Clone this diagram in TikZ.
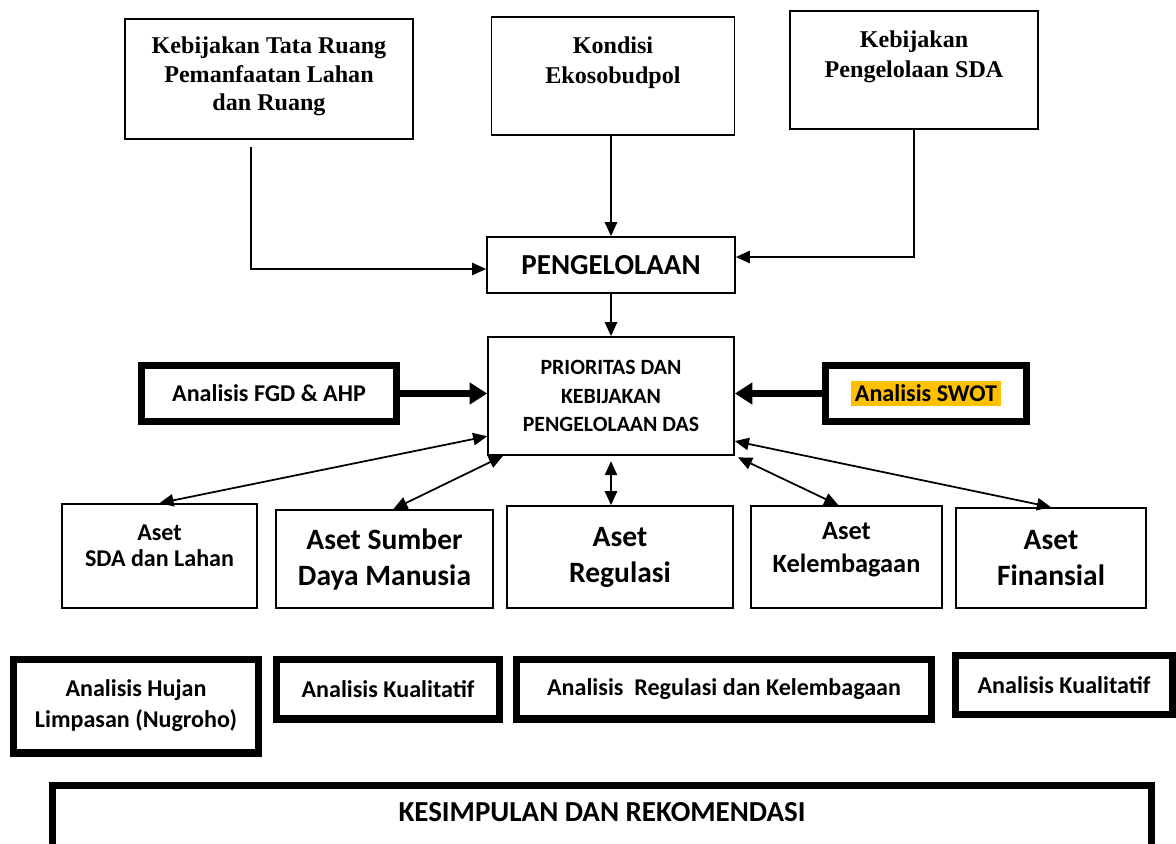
\documentclass[tikz,border=0pt]{standalone}
\usepackage{fontspec}
\setmainfont{Carlito}
\newfontfamily\serifbold{Liberation Serif}
\usetikzlibrary{arrows.meta}
\definecolor{swotorange}{HTML}{FFC000}

\begin{document}
\begin{tikzpicture}[x=0.02cm, y=-0.02cm,
  every node/.style={font=\bfseries},
  box/.style={draw, line width=1pt, align=center, inner sep=2pt},
  thickbox/.style={draw, line width=4pt, align=center, inner sep=2pt},
  serif/.style={font=\serifbold\fontsize{13.7}{#1}\selectfont\bfseries},
  fs/.style 2 args={font=\fontsize{#1}{#2}\selectfont\bfseries},
  arr/.style={line width=1pt, -{Triangle[length=8pt,width=7pt]}},
  dbl/.style={line width=1pt, {Triangle[length=8pt,width=7pt]}-{Triangle[length=8pt,width=7pt]}},
  fatarr/.style={line width=3.5pt, -{Triangle[length=10pt,width=12pt]}}]
  \useasboundingbox (0,0) rectangle (1176,843);
  \clip (0,0) rectangle (1176,843);

  % top row
  \node[box, serif=16.3, minimum width=5.76cm, minimum height=2.4cm, text depth=6pt] (tataruang) at (269,79)
    {Kebijakan Tata Ruang\\Pemanfaatan Lahan\\dan Ruang};
  \node[box, serif=17, minimum width=4.86cm, minimum height=2.36cm, text depth=18pt] (kondisi) at (613,76)
    {Kondisi\\Ekosobudpol};
  \node[box, serif=17, minimum width=4.96cm, minimum height=2.36cm, text depth=18pt] (kebsda) at (914,70)
    {Kebijakan\\Pengelolaan SDA};

  % middle
  \node[box, fs={16.5}{19}, minimum width=4.96cm, minimum height=1.12cm] (peng) at (611,265) {PENGELOLAAN};
  \node[box, fs={12.4}{16}, minimum width=4.92cm, minimum height=2.36cm] (prio) at (611,396)
    {PRIORITAS DAN\\KEBIJAKAN\\PENGELOLAAN DAS};
  \node[thickbox, fs={13.7}{16}, minimum width=5.1cm, minimum height=1.12cm] (fgd) at (269,393.5) {Analisis FGD \& AHP};
  \node[thickbox, fs={13.7}{16}, minimum width=4.02cm, minimum height=1.12cm] (swot) at (926,393.5)
    {\setlength{\fboxsep}{2pt}\colorbox{swotorange}{Analisis SWOT}};

  % aset
  \node[box, fs={13.7}{14.7}, minimum width=3.9cm, minimum height=2.08cm, text depth=12pt] (asetsda) at (159.5,556)
    {Aset\\SDA dan Lahan};
  \node[box, fs={16.8}{20.5}, minimum width=4.34cm, minimum height=1.96cm] (asetsdm) at (384.5,559)
    {Aset Sumber\\Daya Manusia};
  \node[box, fs={16.8}{20.4}, minimum width=4.52cm, minimum height=2.04cm] (asetreg) at (620,557)
    {Aset\\Regulasi};
  \node[box, fs={15}{18.7}, minimum width=3.82cm, minimum height=2.04cm, text depth=11pt] (asetkel) at (846.5,557)
    {Aset\\Kelembagaan};
  \node[box, fs={16.8}{20.4}, minimum width=3.8cm, minimum height=2.0cm] (asetfin) at (1051,558)
    {Aset\\Finansial};

  % analisis
  \node[thickbox, fs={13.7}{17.6}, minimum width=4.9cm, minimum height=1.88cm] (hujan) at (136,706)
    {Analisis Hujan\\Limpasan (Nugroho)};
  \node[thickbox, fs={13.7}{16}, minimum width=4.46cm, minimum height=1.2cm] (kual) at (388,689) {Analisis Kualitatif};
  \node[thickbox, fs={13.7}{16}, minimum width=8.3cm, minimum height=1.2cm] (regkel) at (724,689) {Analisis\ \ Regulasi dan Kelembagaan};
  \node[thickbox, fs={13.7}{16}, minimum width=4.34cm, minimum height=1.18cm] (kualb) at (1064,685) {Analisis Kualitatif};

  \node[thickbox, fs={16.5}{19}, minimum width=21.98cm, minimum height=1.89cm, text depth=23.5pt] (kesimpulan) at (602,832.75)
    {KESIMPULAN DAN REKOMENDASI};

  % connectors
  \coordinate (trout) at (251,147);
  \draw[arr] (trout) |- ([yshift=-0.08cm]peng.west);
  \draw[arr] (kondisi.south -| peng.north) -- (peng.north);
  \draw[arr] (kebsda.south) |- ([yshift=0.16cm]peng.east);
  \draw[arr] (peng) -- (prio);
  \draw[fatarr] (fgd.east) -- (prio.west |- fgd.east);
  \draw[fatarr] (swot.west) -- (prio.east |- swot.west);

  \draw[dbl] (prio.198) -- (asetsda.north);
  \draw[dbl] (prio.209.5) -- (asetsdm.80);
  \draw[dbl, shorten <=3pt] (prio.south) -- (prio.south |- asetreg.north);
  \draw[dbl, shorten <=2pt] (prio.south east) -- (asetkel.99);
  \draw[dbl] (prio.340.5) -- (asetfin.north);
\end{tikzpicture}
\end{document}
